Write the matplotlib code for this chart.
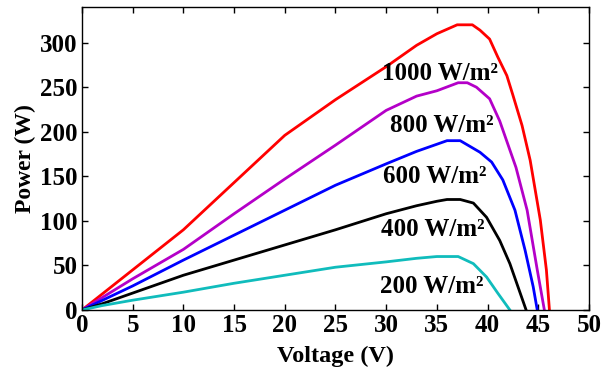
import matplotlib
matplotlib.use("Agg")
import matplotlib.pyplot as plt

plt.rcParams['font.family'] = ['Liberation Serif', 'DejaVu Serif']
plt.rcParams['font.weight'] = 'bold'

# Voltage samples (V) and power (W) for each irradiance level
v_1000 = [0, 5, 10, 15, 20, 25, 30, 33, 35, 37, 38.5, 39.25, 40.2, 41, 41.9, 42.5, 43.4, 44.2, 45.2, 45.8, 46.1]
p_1000 = [0, 45, 90, 143, 196, 236, 273, 297, 310, 320, 320, 314, 304, 284, 263, 241, 207, 168, 101, 45, 0]

v_800 = [0, 5, 10, 15, 20, 25, 30, 33, 35, 37.1, 38, 38.9, 40.2, 41.2, 42, 42.8, 43.9, 44.9, 45.6]
p_800 = [0, 35, 68, 108, 147, 185, 224, 240, 246, 255, 255, 250, 237, 212, 186, 160, 112, 45, 0]

v_600 = [0, 5, 10, 15, 20, 25, 30, 33, 35, 36, 37.3, 39.25, 40.4, 41.5, 42.7, 43.7, 44.5, 44.9]
p_600 = [0, 27, 56, 84, 112, 140, 164, 178, 186, 190, 190, 177, 166, 146, 112, 67, 26, 0]

v_400 = [0, 2, 5, 10, 15, 20, 25, 30, 33, 35, 36, 37.3, 38.6, 39.9, 41.2, 42.2, 43, 43.8]
p_400 = [0, 7, 19, 39, 56, 73, 90, 108, 117, 122, 124, 124, 120, 104, 78, 52, 26, 0]

v_200 = [0, 2, 5, 10, 15, 20, 25, 30, 33, 35, 37.1, 38.6, 39.9, 41, 42.2]
p_200 = [0, 5, 11, 20, 30, 39, 48, 54, 58, 60, 60, 52, 37, 19, 0]

labels = ['1000 W/m²', '800 W/m²', '600 W/m²', '400 W/m²', '200 W/m²']
label_v = [35.3, 35.5, 34.8, 34.6, 34.5]
label_p = [265, 207, 150, 90, 26]

colors = ['#ff0000', '#b400c8', '#0000ff', '#000000', '#10bcbc']

fig = plt.figure(figsize=(6.01, 3.68), dpi=100)
ax = fig.add_axes([0.1364, 0.1576, 0.8436, 0.8234])

series = [(v_1000, p_1000), (v_800, p_800), (v_600, p_600), (v_400, p_400), (v_200, p_200)]
for (v, p), c in zip(series, colors):
    ax.plot(v, p, color=c, lw=2.0, solid_joinstyle='round')

for t, x, y in zip(labels, label_v, label_p):
    ax.text(x, y, t, ha='center', va='center', fontsize=18, fontweight='bold')

ax.set_xlim(0, 50)
ax.set_ylim(0, 340)
ax.set_xticks(range(0, 51, 5))
ax.set_yticks(range(0, 301, 50))
ax.tick_params(direction='in', top=True, right=True, labelsize=18, length=4, width=1, pad=3)
for lab in ax.get_xticklabels() + ax.get_yticklabels():
    lab.set_fontweight('bold')
for s in ax.spines.values():
    s.set_linewidth(1.0)

ax.set_xlabel('Voltage (V)', fontsize=17.5, fontweight='bold', labelpad=6)
ax.set_ylabel('Power (W)', fontsize=17, fontweight='bold', labelpad=3)

fig.savefig('out.png', dpi=100)
